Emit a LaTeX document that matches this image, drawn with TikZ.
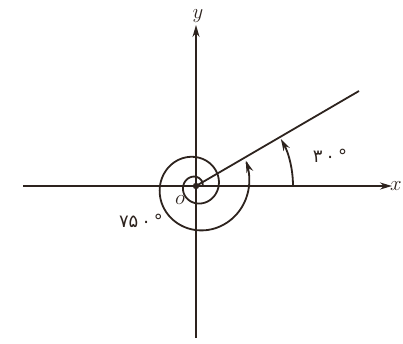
\documentclass[tikz,border=0pt]{standalone}
\usepackage{fontspec}
\newfontfamily\fafont{DejaVu Sans}
\usetikzlibrary{arrows.meta}
\definecolor{ink}{RGB}{45,35,30}
\tikzset{
  ln/.style={draw=ink, line width=1.8pt},
  tip/.style={-{Stealth[length=12pt,width=7pt]}},
  lbl/.style={text=ink, inner sep=0pt, font=\fontsize{20}{22}\selectfont\itshape},
  fa/.style={text=ink, inner sep=0pt, font=\fontsize{18}{20}\selectfont\fafont}
}
\begin{document}
\begin{tikzpicture}[x=1pt,y=1pt]
\useasboundingbox (0,0) rectangle (403,343);
\coordinate (O) at (196,157);
\coordinate (xl) at (23,157);
\coordinate (xr) at (392,157);
\coordinate (yb) at (196,5);
\coordinate (yt) at (196,318);
\coordinate (R) at (359,252);
\draw[ln,tip] (xl) -- (xr);
\draw[ln,tip] (yb) -- (yt);
\draw[ln] (O) -- (R);
\fill[ink] (O) circle (3.2);
% 30 degree arc
\draw[ln,tip] ([shift={(0:97)}]O) arc[start angle=0,end angle=29,radius=97];
% 750 degree spiral
\draw[ln,tip] plot[domain=10:747,samples=300,smooth]
  ({196+(6.5+0.025*\x+0.55*(\x/100)^2)*cos(\x)},{157+(6.5+0.025*\x+0.55*(\x/100)^2)*sin(\x)});
\node[lbl] (xlab) at (396,157) {$x$};
\node[lbl] (ylab) at (198,327) {$y$};
\node[lbl] (olab) at (180,143) {$o$};
\node[fa] (a30) at (330,187) {۳\,۰\,°};
\node[fa] (a750) at (141,122) {۷۵\,۰\,°};
\end{tikzpicture}
\end{document}
